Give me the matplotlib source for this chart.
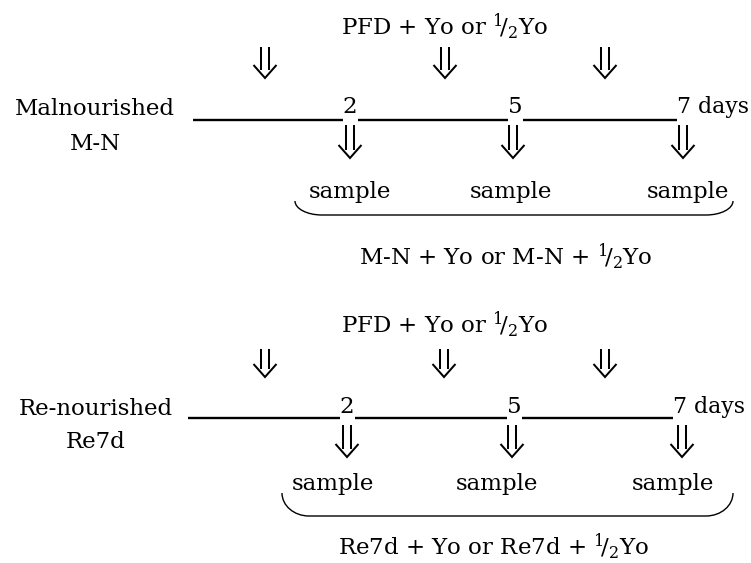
import matplotlib
matplotlib.use("Agg")
import matplotlib.pyplot as plt
from matplotlib.path import Path
from matplotlib.patches import PathPatch

plt.rcParams['font.family'] = ['DejaVu Serif']
plt.rcParams['mathtext.default'] = 'regular'

# ---- content ----
HALF = r"$^{1}\!/_{2}$"
treatment = "PFD + Yo or " + HALF + "Yo"
group_names = ["Malnourished", "Re-nourished"]
group_codes = ["M-N", "Re7d"]
day_labels = ["2", "5", "7 days"]
sample_label = "sample"
outcomes = ["M-N + Yo or M-N + " + HALF + "Yo",
            "Re7d + Yo or Re7d + " + HALF + "Yo"]

# ---- layout (pixel coordinates, y downward) ----
W, H = 751, 563
title_x = [445, 445]
title_base = [35, 333]
top_arrow_x = [[265, 445, 605], [265, 444, 605]]
top_arrow_y = [(47, 78), (349, 377)]
label_x = [95, 96]
name_base = [115, 415]
code_base = [150, 448]
line_y = [120, 418]
line_start = [193, 188]
num_x = [[350, 515], [347, 514]]
days_x = [677, 673]
num_base = [113, 413]
low_arrow_x = [[350, 513, 683], [347, 512, 682]]
low_arrow_y = [(125, 158), (425, 457)]
sample_x = [[350, 511, 688], [333, 497, 673]]
sample_base = [198, 490]
brace_x = [(295, 733), (282, 733)]
brace_y = [(201, 215), (493, 516)]
outcome_x = [506, 494]
outcome_base = [265, 555]

FS = 16.5
FS_DAYS = 15.8
LW_LINE = 1.7
LW_ARR = 1.45

fig = plt.figure(figsize=(W / 100, H / 100), dpi=100)
ax = fig.add_axes([0, 0, 1, 1])
ax.set_xlim(0, W)
ax.set_ylim(H, 0)
ax.axis('off')


def darrow(x, y0, y1):
    hw, hh, sep = 11.5, 13.0, 4.0
    yb = y1 - hh * (1 - sep / hw)
    ax.plot([x - sep, x - sep], [y0, yb], color='k', lw=LW_ARR, solid_capstyle='butt')
    ax.plot([x + sep, x + sep], [y0, yb], color='k', lw=LW_ARR, solid_capstyle='butt')
    ax.plot([x - hw, x, x + hw], [y1 - hh, y1, y1 - hh], color='k', lw=LW_ARR,
            solid_joinstyle='miter', solid_capstyle='butt')


def brace(x0, x1, yt, yb):
    rx = 27
    k = 0.5523
    ry = yb - yt
    verts = [(x0, yt),
             (x0, yt + k * ry), (x0 + rx * (1 - k), yb), (x0 + rx, yb),
             (x1 - rx, yb),
             (x1 - rx * (1 - k), yb), (x1, yt + k * ry), (x1, yt)]
    codes = [Path.MOVETO, Path.CURVE4, Path.CURVE4, Path.CURVE4, Path.LINETO,
             Path.CURVE4, Path.CURVE4, Path.CURVE4]
    ax.add_patch(PathPatch(Path(verts, codes), fill=False, lw=1.0, edgecolor='k'))


for i in range(2):
    ax.text(title_x[i], title_base[i], treatment, ha='center', va='baseline', fontsize=FS)
    for x in top_arrow_x[i]:
        darrow(x, *top_arrow_y[i])
    ax.text(label_x[i], name_base[i], group_names[i], ha='center', va='baseline', fontsize=FS)
    ax.text(label_x[i], code_base[i], group_codes[i], ha='center', va='baseline', fontsize=FS)
    starts = [line_start[i], num_x[i][0] + 8, num_x[i][1] + 8]
    ends = [num_x[i][0] - 7, num_x[i][1] - 7, days_x[i]]
    for s, e in zip(starts, ends):
        ax.plot([s, e], [line_y[i], line_y[i]], color='k', lw=LW_LINE, solid_capstyle='butt')
    for x, lab in zip(num_x[i], day_labels[:2]):
        ax.text(x, num_base[i], lab, ha='center', va='baseline', fontsize=FS)
    ax.text(days_x[i], num_base[i], day_labels[2], ha='left', va='baseline', fontsize=FS_DAYS)
    for x in low_arrow_x[i]:
        darrow(x, *low_arrow_y[i])
    for x in sample_x[i]:
        ax.text(x, sample_base[i], sample_label, ha='center', va='baseline', fontsize=FS)
    brace(*brace_x[i], *brace_y[i])
    ax.text(outcome_x[i], outcome_base[i], outcomes[i], ha='center', va='baseline', fontsize=FS)

fig.savefig("out.png", dpi=100)
